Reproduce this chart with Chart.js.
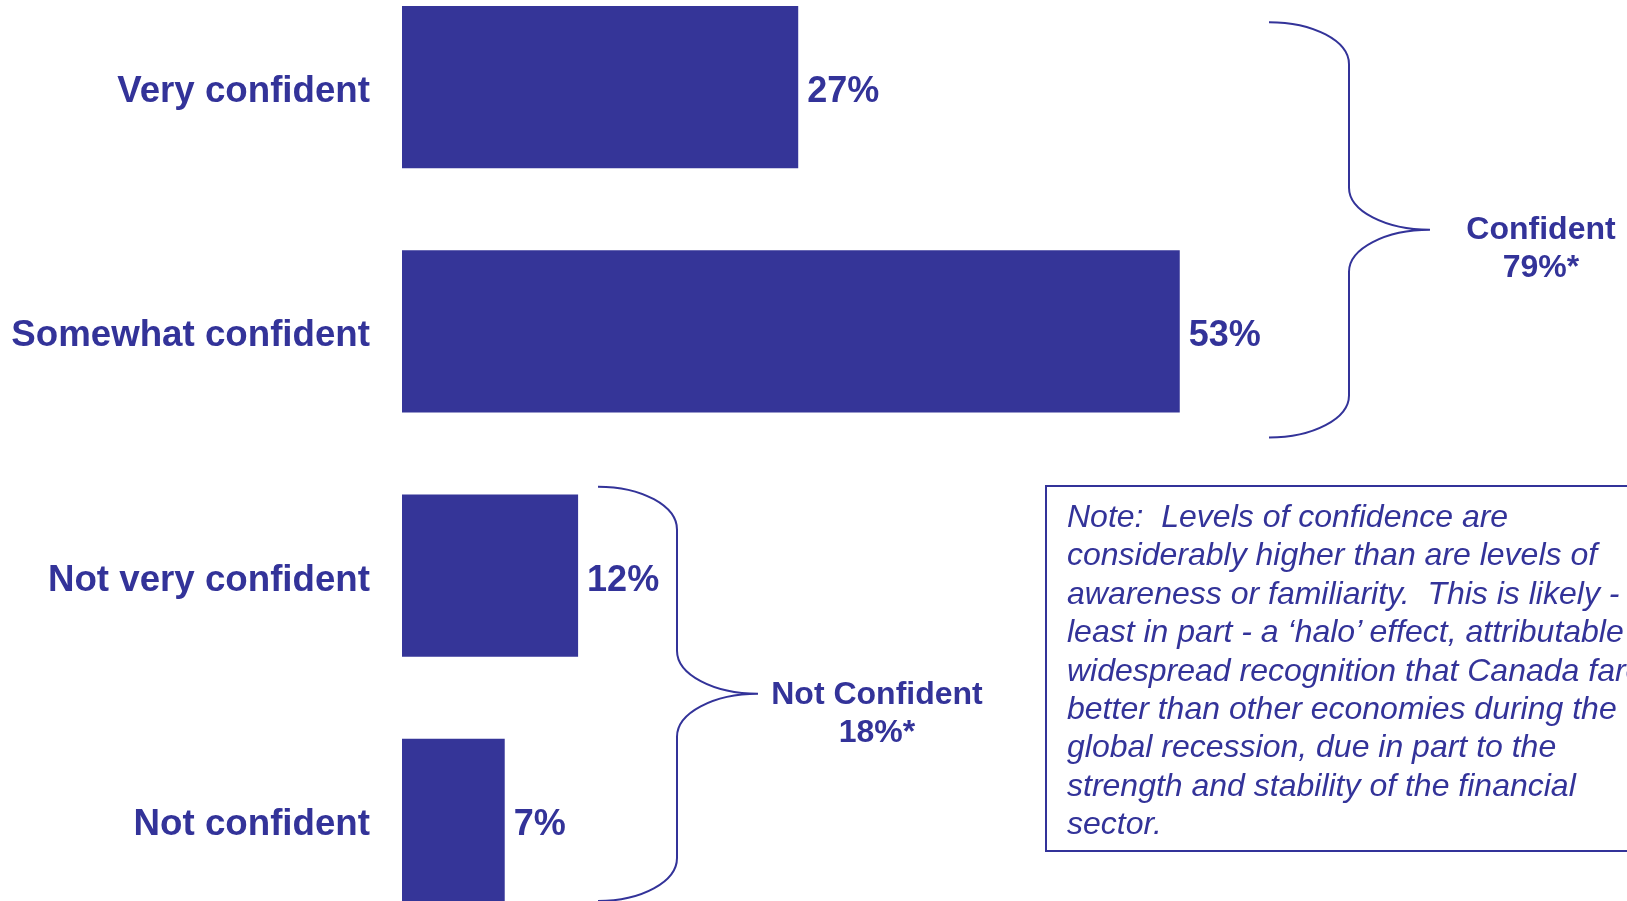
<!DOCTYPE html>
<html>
<head>
<meta charset="utf-8">
<script src="https://cdn.jsdelivr.net/npm/chart.js@4/dist/chart.umd.min.js"></script>
<style>
    html, body { margin: 0; padding: 0; overflow: hidden; background: #fff; }
    body { width: 1627px; height: 901px; position: relative; font-family: "Liberation Sans", Arial, sans-serif; color: #333399; }
    #confidenceChart { position: absolute; left: 0; top: -35px; }
    .group-label { position: absolute; text-align: center; font-weight: bold; font-size: 32px; line-height: 37.6px; }
    #noteBox {
        position: absolute; left: 1045px; top: 485px; width: 700px; height: 363px;
        border: 2px solid #333399; box-sizing: content-box;
        padding: 0; font-style: italic; font-size: 32px; line-height: 38.4px;
    }
    #noteBox div { position: absolute; left: 20px; top: 10px; white-space: pre; }
</style>
</head>
<body>
<canvas id="confidenceChart" width="1627" height="977"></canvas>

<div class="group-label" style="left:1441px; top:210px; width:200px;">Confident<br>79%*</div>
<div class="group-label" style="left:727px; top:675px; width:300px;">Not Confident<br>18%*</div>

<div id="noteBox"><div>Note:  Levels of confidence are
considerably higher than are levels of
awareness or familiarity.  This is likely - at
least in part - a ‘halo’ effect, attributable to
widespread recognition that Canada fared
better than other economies during the
global recession, due in part to the
strength and stability of the financial
sector.</div></div>

<script>
const categories = ['Very confident', 'Somewhat confident', 'Not very confident', 'Not confident'];
const percentValues = [27, 53, 12, 7];
const xMax = 83;

const mainColor = '#333399';
const barColor = '#353598';
const fontFamily = '"Liberation Sans", Arial, sans-serif';

// value labels at the end of each bar
const valueLabels = {
    id: 'valueLabels',
    afterDatasetsDraw(chart) {
        const ctx = chart.ctx;
        const meta = chart.getDatasetMeta(0);
        ctx.save();
        ctx.fillStyle = mainColor;
        ctx.font = 'bold 36px ' + fontFamily;
        ctx.textAlign = 'left';
        ctx.textBaseline = 'middle';
        meta.data.forEach((bar, i) => {
            ctx.fillText(percentValues[i] + '%', bar.x + 9, bar.y + 5);
        });
        ctx.restore();
    }
};

function drawBrace(ctx, xEnd, xSpine, xTip, top, bottom, ry) {
    const k = 0.5523;
    const rx1 = xSpine - xEnd;
    const rx2 = xTip - xSpine;
    const mid = (top + bottom) / 2;
    ctx.beginPath();
    ctx.moveTo(xEnd, top);
    ctx.bezierCurveTo(xEnd + k * rx1, top, xSpine, top + ry - k * ry, xSpine, top + ry);
    ctx.lineTo(xSpine, mid - ry);
    ctx.bezierCurveTo(xSpine, mid - ry + k * ry, xTip - k * rx2, mid, xTip, mid);
    ctx.bezierCurveTo(xTip - k * rx2, mid, xSpine, mid + ry - k * ry, xSpine, mid + ry);
    ctx.lineTo(xSpine, bottom - ry);
    ctx.bezierCurveTo(xSpine, bottom - ry + k * ry, xEnd + k * rx1, bottom, xEnd, bottom);
    ctx.stroke();
}

// curly braces grouping the categories
const braces = {
    id: 'braces',
    afterDraw(chart) {
        const ctx = chart.ctx;
        const y = chart.scales.y;
        ctx.save();
        ctx.strokeStyle = mainColor;
        ctx.lineWidth = 2;
        drawBrace(ctx, 1269, 1349, 1430, y.getPixelForValue(0) - 65, y.getPixelForValue(1) + 106, 42);
        drawBrace(ctx, 598, 677, 758, y.getPixelForValue(2) - 89, y.getPixelForValue(3) + 81, 43);
        ctx.restore();
    }
};

const ctx = document.getElementById('confidenceChart').getContext('2d');
new Chart(ctx, {
    type: 'bar',
    data: {
        labels: categories,
        datasets: [{
            data: percentValues,
            backgroundColor: barColor,
            borderWidth: 0,
            barPercentage: 1,
            categoryPercentage: 0.665
        }]
    },
    options: {
        indexAxis: 'y',
        responsive: false,
        animation: false,
        devicePixelRatio: 1,
        layout: { padding: { left: 0, right: 7, top: 0, bottom: 0 } },
        plugins: {
            legend: { display: false },
            tooltip: { enabled: false }
        },
        scales: {
            x: { display: false, min: 0, max: xMax },
            y: {
                grid: { display: false, drawTicks: false },
                border: { display: false },
                ticks: {
                    color: mainColor,
                    padding: 32,
                    labelOffset: 5,
                    font: { family: fontFamily, size: 36.7, weight: 'bold' }
                },
                afterFit(scale) {
                    scale.width = 402;
                    scale.paddingTop = 0;
                    scale.paddingBottom = 0;
                }
            }
        }
    },
    plugins: [valueLabels, braces]
});
</script>
</body>
</html>
